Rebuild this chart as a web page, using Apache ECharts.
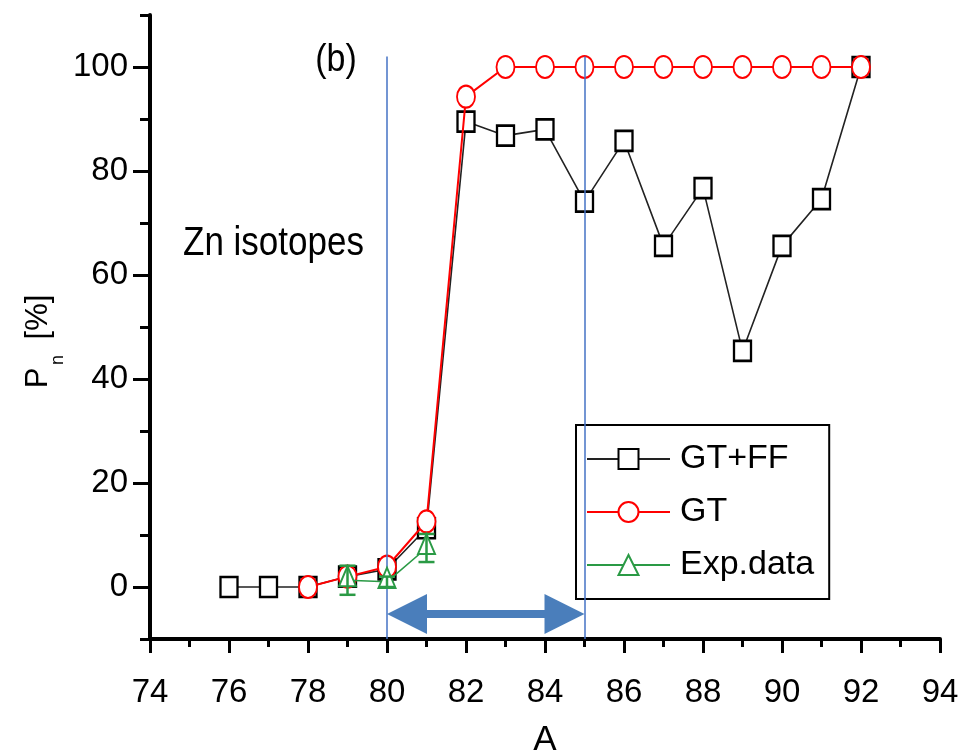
<!DOCTYPE html>
<html>
<head>
<meta charset="utf-8">
<script src="https://cdn.jsdelivr.net/npm/echarts@6/dist/echarts.min.js"></script>
<style>
html,body{margin:0;padding:0;background:#fff;}
#chart{width:961px;height:755px;}
</style>
</head>
<body>
<div id="chart"></div>
<script>
// ---- data ----
const massFF = [76,77,78,79,80,81,82,83,84,85,86,87,88,89,90,91,92];
const pnFF   = [0,0,0,2.0,3.4,11.3,89.5,86.8,88.0,74.1,85.8,65.6,76.7,45.4,65.6,74.6,100];
const massGT = [78,79,80,81,82,83,84,85,86,87,88,89,90,91,92];
const pnGT   = [0,2.0,3.9,12.6,94.3,100,100,100,100,100,100,100,100,100,100];
const massExp = [79,80,81];
const pnExp   = [1.3,1.0,7.5];
const pnExpErr = [2.8,1.0,2.7];
const markerA = [80,85];
const markerTop = 102;
const arrowRange = [[80,85,-5.2]];
const yMajorTicks = [0,20,40,60,80,100];
const seriesNames = ['GT+FF','GT','Exp.data'];

const FONT = 'Liberation Sans';
const zip = (xs, ys) => xs.map((x,i)=>[x, ys[i]]);

const chart = echarts.init(document.getElementById('chart'), null, {renderer:'canvas'});

const option = {
  animation: false,
  backgroundColor: '#fff',
  textStyle: {fontFamily: FONT, color:'#000'},
  grid: {left:150, right:21, top:15, bottom:116, containLabel:false, outerBoundsMode:'none'},
  xAxis: {
    type:'value', min:74, max:94, interval:2,
    axisLine:{show:true, onZero:false, lineStyle:{color:'#000', width:4}},
    axisTick:{show:true, length:14, lineStyle:{color:'#000', width:3}},
    minorTick:{show:true, splitNumber:2, length:8, lineStyle:{color:'#000', width:3}},
    splitLine:{show:false}, minorSplitLine:{show:false},
    axisLabel:{fontSize:33, color:'#000', margin:37, fontFamily:FONT},
    name:'A', nameLocation:'middle', nameGap:84,
    nameTextStyle:{fontSize:35, color:'#000', fontFamily:FONT}
  },
  yAxis: [{
    type:'value', min:-10, max:110, interval:10,
    axisLine:{show:true, onZero:false, lineStyle:{color:'#000', width:4}},
    axisTick:{show:true, length:10, lineStyle:{color:'#000', width:3}},
    splitLine:{show:false},
    axisLabel:{fontSize:33, color:'#000', margin:22, fontFamily:FONT,
      formatter: v => (v >= 0 && v % 20 === 0) ? String(v) : ''}
  },{
    type:'value', min:-10, max:110, interval:10, position:'left',
    axisLine:{show:false},
    axisTick:{show:true, length:17, customValues: yMajorTicks, lineStyle:{color:'#000', width:3}},
    axisLabel:{show:false},
    splitLine:{show:false}
  }],
  legend: {
    show:true, data: seriesNames, orient:'vertical', left:576, top:425,
    itemWidth:83, itemHeight:25, itemGap:19,
    padding:[17,15,17,10],
    borderColor:'#000', borderWidth:2, borderRadius:0, backgroundColor:'#fff',
    textStyle:{fontSize:34, color:'#000', fontFamily:FONT, padding:[0,0,0,5]},
    selectedMode:false
  },
  graphic: [
    {type:'text', x:336, y:60, scaleY:1.15, style:{text:'(b)', fontSize:34, fontFamily:FONT, fill:'#000', align:'center', verticalAlign:'middle'}},
    {type:'text', x:183, y:244, scaleY:1.18, style:{text:'Zn isotopes', fontSize:35, fontFamily:FONT, fill:'#000', align:'left', verticalAlign:'middle'}},
    {type:'group', x:38, y:337, rotation:Math.PI/2, children:[
      {type:'text', x:-41, y:0, style:{text:'P', fontSize:31, fontFamily:FONT, fill:'#000', align:'center', verticalAlign:'middle'}},
      {type:'text', x:-23, y:20, style:{text:'n', fontSize:18, fontFamily:FONT, fill:'#000', align:'center', verticalAlign:'middle'}},
      {type:'text', x:20, y:0, style:{text:'[%]', fontSize:31, fontFamily:FONT, fill:'#000', align:'center', verticalAlign:'middle'}}
    ]}
  ],
  series: [
    {
      name:'GT+FF', type:'line', data: zip(massFF, pnFF), z:3,
      symbol:'rect', symbolSize:[17,20],
      lineStyle:{color:'#222', width:1.6},
      itemStyle:{color:'#fff', borderColor:'#000', borderWidth:2.5},
      markLine:{
        silent:true, symbol:['none','none'], label:{show:false},
        lineStyle:{color:'#4472c4', width:1.5, type:'solid'},
        data: markerA.map(a => [{coord:[a, markerTop]}, {coord:[a, -10]}])
      }
    },
    {
      name:'GT', type:'line', data: zip(massGT, pnGT), z:4,
      symbol:'circle', symbolSize:[18,22],
      lineStyle:{color:'#ff0000', width:2},
      itemStyle:{color:'#fff', borderColor:'#ff0000', borderWidth:2}
    },
    {
      name:'Exp.data', type:'line', data: zip(massExp, pnExp), z:5,
      symbol:'triangle', symbolSize:[17,20], symbolOffset:[0,-4],
      lineStyle:{color:'#2a9a45', width:1.6},
      itemStyle:{color:'#fff', borderColor:'#2a9a45', borderWidth:2}
    },
    {
      name:'errbars', type:'custom', z:6, silent:true,
      data: massExp.map((a,i)=>[a, pnExp[i], pnExpErr[i]]),
      renderItem: function(params, api){
        const a = api.value(0), v = api.value(1), e = api.value(2);
        const top = api.coord([a, v+e]);
        const bot = api.coord([a, v-e]);
        const hw = 8;
        const st = {stroke:'#2a9a45', lineWidth:2.5};
        return {type:'group', children:[
          {type:'line', shape:{x1:top[0], y1:top[1], x2:bot[0], y2:bot[1]}, style:st},
          {type:'line', shape:{x1:top[0]-hw, y1:top[1], x2:top[0]+hw, y2:top[1]}, style:st},
          {type:'line', shape:{x1:bot[0]-hw, y1:bot[1], x2:bot[0]+hw, y2:bot[1]}, style:st}
        ]};
      }
    },
    {
      name:'arrow', type:'custom', z:7, silent:true,
      data: arrowRange,
      renderItem: function(params, api){
        const p1 = api.coord([api.value(0), api.value(2)]);
        const p2 = api.coord([api.value(1), api.value(2)]);
        const y = p1[1], L = 40, H = 20, T = 4;
        const x1 = p1[0], x2 = p2[0];
        return {type:'polygon', shape:{points:[
          [x1,y],[x1+L,y-H],[x1+L,y-T],[x2-L,y-T],[x2-L,y-H],[x2,y],
          [x2-L,y+H],[x2-L,y+T],[x1+L,y+T],[x1+L,y+H]
        ]}, style:{fill:'#4a7ebb'}};
      }
    }
  ]
};
chart.setOption(option);
</script>
</body>
</html>
